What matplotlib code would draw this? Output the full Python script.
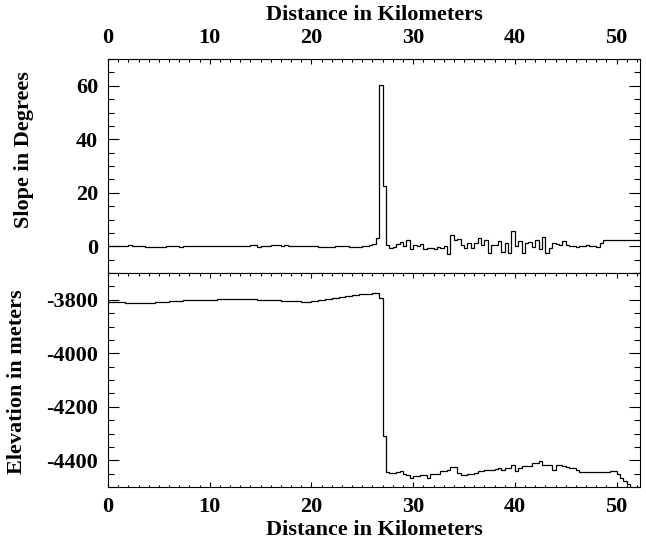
import numpy as np
import matplotlib.pyplot as plt
from matplotlib.ticker import MultipleLocator

plt.rcParams["font.family"] = "Liberation Serif"
plt.rcParams["font.weight"] = "bold"
plt.rcParams["font.size"] = 16
plt.rcParams["axes.labelweight"] = "bold"
plt.rcParams["axes.unicode_minus"] = False

# profile sampled every 1/3 km
bin_km = 1.0 / 3.0

# slope per bin (degrees)
slope_deg = [
    0.1, 0.1, 0.2, 0.1, 0.1, 0.2,
    0.3, 0.2, 0.1, 0.0, 0.0, -0.1,
    -0.2, -0.2, -0.1, -0.2, -0.1, 0.0,
    0.0, 0.1, 0.0, -0.1, 0.0, 0.1,
    0.1, 0.0, 0.1, 0.0, 0.0, 0.1,
    0.1, 0.1, 0.0, 0.1, 0.1, 0.0,
    0.0, 0.1, 0.1, 0.0, 0.1, 0.1,
    0.4, 0.5, -0.3, 0.2, 0.1, 0.2,
    0.3, 0.3, 0.3, 0.2, 0.3, 0.2,
    0.2, 0.1, 0.1, 0.1, 0.0, 0.0,
    0.1, 0.0, -0.1, -0.3, -0.3, -0.2,
    -0.1, 0.0, 0.0, 0.1, 0.0, -0.2,
    -0.3, -0.3, -0.2, 0.0, 0.2, 0.4,
    # 26 km onwards
    1.0, 3.0, 60.3,
    22.5, 0.5, -0.8,
    -0.3, 0.8, 1.5,
    0.2, 2.5, -1.2,
    0.3, 0.2, 0.8,
    -0.9, -0.8, -0.5,
    -1.2, -0.4, -0.8,
    0.2, -3.0, 4.2,
    2.2, 2.6, 0.6,
    -0.6, 1.2, -0.6,
    1.2, 3.1, 0.6,
    2.5, -2.4, 0.6,
    0.4, 1.8, -2.3,
    1.4, -2.5, 5.6,
    0.0, 1.8, -2.5,
    1.2, 1.5, -0.3,
    2.5, -1.2, 3.4,
    -2.5, -0.6, 1.3,
    1.0, 0.6, 1.8,
    0.6, 0.0, 0.0,
    -0.2, 0.2, 0.2,
    0.3, 0.0, 0.0,
    -0.2, 1.2, 2.5,
    2.2, 2.3, 2.2,
    2.2, 2.3, 2.2,
    2.3, 2.2, 2.2,
    2.3,
]

# elevation per bin (meters)
elev_m = [
    -3809, -3809, -3810, -3810, -3810, -3811,
    -3811, -3811, -3812, -3812, -3812, -3812,
    -3811, -3811, -3810, -3809, -3808, -3807,
    -3806, -3805, -3804, -3803, -3802, -3802,
    -3801, -3801, -3800, -3800, -3800, -3800,
    -3800, -3800, -3799, -3799, -3799, -3799,
    -3799, -3799, -3799, -3799, -3799, -3799,
    -3799, -3799, -3800, -3800, -3800, -3800,
    -3801, -3801, -3802, -3803, -3803, -3804,
    -3805, -3806, -3806, -3807, -3807, -3807,
    -3806, -3804, -3802, -3800, -3798, -3796,
    -3793, -3792, -3790, -3788, -3787, -3785,
    -3783, -3782, -3780, -3779, -3778, -3777,
    -3776, -3775, -3792,
    -4310, -4445, -4447,
    -4447, -4442, -4441,
    -4453, -4455, -4466,
    -4460, -4460, -4456,
    -4456, -4466, -4453,
    -4453, -4450, -4441,
    -4441, -4438, -4426,
    -4426, -4447, -4456,
    -4456, -4450, -4450,
    -4447, -4441, -4441,
    -4437, -4435, -4435,
    -4433, -4429, -4437,
    -4428, -4428, -4416,
    -4441, -4428, -4422,
    -4422, -4420, -4412,
    -4410, -4404, -4419,
    -4419, -4419, -4438,
    -4418, -4416, -4420,
    -4426, -4428, -4430,
    -4436, -4442, -4445,
    -4445, -4444, -4444,
    -4445, -4444, -4444,
    -4443, -4441, -4441,
    -4453, -4466, -4478,
    -4490, -4505, -4520,
    -4535,
]

edges = np.arange(len(slope_deg) + 1) * bin_km

fig = plt.figure(figsize=(6.46, 5.46), dpi=100)
ax1 = fig.add_axes([0.1672, 0.5, 0.8235, 0.3919])
ax2 = fig.add_axes([0.1672, 0.108, 0.8235, 0.392])

ax1.stairs(slope_deg, edges, baseline=None, color="k", lw=0.9)
ax2.stairs(elev_m, edges, baseline=None, color="k", lw=0.9)

for ax in (ax1, ax2):
    ax.set_xlim(0, 52.3)
    ax.xaxis.set_major_locator(MultipleLocator(10))
    ax.xaxis.set_minor_locator(MultipleLocator(1))
    for s in ax.spines.values():
        s.set_linewidth(0.8)
    ax.tick_params(which="both", direction="in", width=0.8, right=True)
    ax.tick_params(axis="x", which="minor", length=1.8)
    ax.tick_params(axis="y", which="major", length=8, pad=7)
    ax.tick_params(axis="y", which="minor", length=4)

ax1.set_ylim(-10, 70)
ax1.yaxis.set_major_locator(MultipleLocator(20))
ax1.yaxis.set_minor_locator(MultipleLocator(5))
ax1.xaxis.tick_top()
ax1.tick_params(axis="x", which="both", top=True, bottom=False)
ax1.tick_params(axis="x", which="major", length=3.5, pad=8)
ax1.xaxis.set_label_position("top")
ax1.set_xlabel("Distance in Kilometers", labelpad=6)
ax1.set_ylabel("Slope in Degrees")
ax1.yaxis.set_label_coords(-0.14, 0.575)

ax2.set_ylim(-4500, -3700)
ax2.yaxis.set_major_locator(MultipleLocator(200))
ax2.yaxis.set_minor_locator(MultipleLocator(50))
ax2.tick_params(axis="x", which="both", top=True, bottom=True)
ax2.tick_params(axis="x", which="major", length=3.5, pad=7)
ax2.set_xlabel("Distance in Kilometers", labelpad=2)
ax2.set_ylabel("Elevation in meters")
ax2.yaxis.set_label_coords(-0.152, 0.49)

fig.savefig("out.png", dpi=100)
